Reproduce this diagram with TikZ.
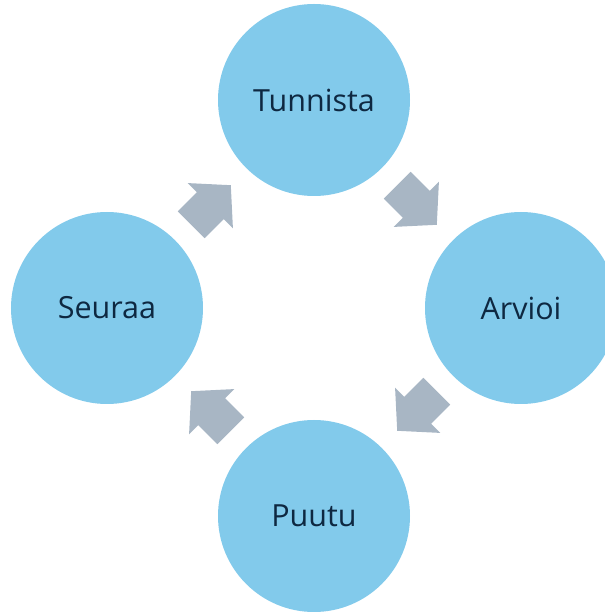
\documentclass[tikz,border=0pt]{standalone}
\usepackage{xcolor}
\usepackage{tikz}
\usepackage{fontspec}
\setmainfont{Open Sans}
\definecolor{phaseblue}{HTML}{82CAEB}
\definecolor{arrowgray}{HTML}{A8B6C4}
\definecolor{phasetext}{HTML}{0E2841}
\newcommand{\cyclearrow}[2]{%
  \fill[arrowgray,shift={#1},rotate=#2] (-28,-19)--(-1,-19)--(-1,-32)--(28,0)--(-1,32)--(-1,19)--(-28,19)--cycle;}

\begin{document}
\begin{tikzpicture}[x=1pt,y=1pt,
    phase/.style={circle,fill=phaseblue,minimum size=192pt,inner sep=0pt,
                  text=phasetext,font=\fontsize{30.5}{36}\selectfont}]
            \useasboundingbox (-314,-304) rectangle (290,308);
            \node[phase] (tunnista) at (0,208) {Tunnista};
            \node[phase] (arvioi) at (207,0) {Arvioi};
            \node[phase] (puutu) at (0,-208) {Puutu};
            \node[phase] (seuraa) at (-207,0) {Seuraa};

            \cyclearrow{(103,103)}{-45}
            \cyclearrow{(103,-103)}{-135}
            \cyclearrow{(-103,-103)}{135}
            \cyclearrow{(-103,103)}{45}
        \end{tikzpicture}
\end{document}
